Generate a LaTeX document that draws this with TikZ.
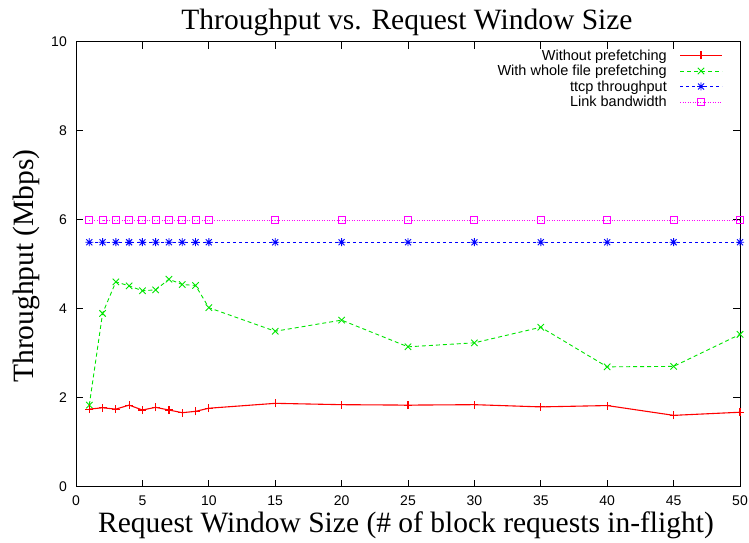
\documentclass[tikz,border=0pt]{standalone}
\usepackage{fontspec}
\setmainfont{Liberation Serif}
\setsansfont{Liberation Sans}
\usetikzlibrary{plotmarks}
\definecolor{gpred}{RGB}{255,0,0}
\definecolor{gpgreen}{RGB}{0,230,0}
\definecolor{gpblue}{RGB}{0,0,255}
\definecolor{gpmag}{RGB}{255,0,255}
\pgfdeclareplotmark{gpstar}{%
  \pgfpathmoveto{\pgfqpoint{-\pgfplotmarksize}{0pt}}\pgfpathlineto{\pgfqpoint{\pgfplotmarksize}{0pt}}%
  \pgfpathmoveto{\pgfqpoint{0pt}{-\pgfplotmarksize}}\pgfpathlineto{\pgfqpoint{0pt}{\pgfplotmarksize}}%
  \pgfpathmoveto{\pgfqpoint{-0.75\pgfplotmarksize}{-0.75\pgfplotmarksize}}\pgfpathlineto{\pgfqpoint{0.75\pgfplotmarksize}{0.75\pgfplotmarksize}}%
  \pgfpathmoveto{\pgfqpoint{-0.75\pgfplotmarksize}{0.75\pgfplotmarksize}}\pgfpathlineto{\pgfqpoint{0.75\pgfplotmarksize}{-0.75\pgfplotmarksize}}%
  \pgfusepathqstroke}
\pgfdeclareplotmark{gpx}{%
  \pgfpathmoveto{\pgfqpoint{-0.8\pgfplotmarksize}{-0.8\pgfplotmarksize}}\pgfpathlineto{\pgfqpoint{0.8\pgfplotmarksize}{0.8\pgfplotmarksize}}%
  \pgfpathmoveto{\pgfqpoint{-0.8\pgfplotmarksize}{0.8\pgfplotmarksize}}\pgfpathlineto{\pgfqpoint{0.8\pgfplotmarksize}{-0.8\pgfplotmarksize}}%
  \pgfusepathqstroke}
\pgfdeclareplotmark{gpplus}{%
  \pgfpathmoveto{\pgfqpoint{-\pgfplotmarksize}{0pt}}\pgfpathlineto{\pgfqpoint{\pgfplotmarksize}{0pt}}%
  \pgfpathmoveto{\pgfqpoint{0pt}{-\pgfplotmarksize}}\pgfpathlineto{\pgfqpoint{0pt}{\pgfplotmarksize}}%
  \pgfusepathqstroke}
\tikzset{
  bigtext/.style={font=\fontsize{29.5}{32}\selectfont, inner sep=0pt},
  ticktext/.style={font=\sffamily\fontsize{14}{16}\selectfont, inner sep=0pt},
  legtext/.style={font=\sffamily\fontsize{14.5}{16}\selectfont, inner sep=0pt, anchor=base east},
  redline/.style={draw=gpred, color=gpred, line width=1.1pt, mark=gpplus, mark size=4pt, mark options={solid, draw=gpred}},
  greenline/.style={draw=gpgreen, color=gpgreen, line width=0.9pt, dash pattern=on 4pt off 3pt, mark=gpx, mark size=4pt, mark options={solid, draw=gpgreen}},
  blueline/.style={draw=gpblue, color=gpblue, line width=0.9pt, dash pattern=on 2.5pt off 3.5pt, mark=gpstar, mark size=4pt, mark options={solid, draw=gpblue}},
  magline/.style={draw=gpmag, color=gpmag, line width=0.9pt, dash pattern=on 1pt off 1.5pt, mark=square, mark size=3.5pt, mark options={solid, draw=gpmag}},
  frame/.style={black, line width=1pt},
}
\begin{document}
\begin{tikzpicture}[x=1pt,y=1pt]
\useasboundingbox[fill=white] (0,0) rectangle (749,543);
% title and axis labels
\node[bigtext, anchor=base] (title) at (407,513) {Throughput vs. Request Window Size};
\node[bigtext, anchor=base] (xlabel) at (406,10) {Request Window Size (\# of block requests in-flight)};
\node[bigtext, anchor=base, rotate=90] (ylabel) at (33,277) {Throughput (Mbps)};
\begin{scope}[shift={(76,56)}, x=13.28pt, y=44.5pt]
  % frame
  \draw[frame] (0,0) rectangle (50,10);
  % x ticks
  \foreach \v in {0,5,...,50} {
    \draw[frame] (\v,0) -- ++(0,7pt);
    \draw[frame] (\v,10) -- ++(0,-7pt);
    \node[ticktext, anchor=base] (xt\v) at ([yshift=-19pt]\v,0) {\v};
  }
  % y ticks
  \foreach \v in {0,2,...,10} {
    \draw[frame] (0,\v) -- ++(7pt,0);
    \draw[frame] (50,\v) -- ++(-7pt,0);
    \node[ticktext, anchor=base east] (yt\v) at ([xshift=-9pt,yshift=-5pt]0,\v) {\v};
  }
  % data
  \draw[magline] plot coordinates {(1,6)(2,6)(3,6)(4,6)(5,6)(6,6)(7,6)(8,6)(9,6)(10,6)(15,6)(20,6)(25,6)(30,6)(35,6)(40,6)(45,6)(50,6)};
  \draw[blueline] plot coordinates {(1,5.5)(2,5.5)(3,5.5)(4,5.5)(5,5.5)(6,5.5)(7,5.5)(8,5.5)(9,5.5)(10,5.5)(15,5.5)(20,5.5)(25,5.5)(30,5.5)(35,5.5)(40,5.5)(45,5.5)(50,5.5)};
  \draw[greenline] plot coordinates {(1,1.84)(2,3.9)(3,4.61)(4,4.52)(5,4.41)(6,4.43)(7,4.67)(8,4.55)(9,4.53)(10,4.03)(15,3.5)(20,3.75)(25,3.15)(30,3.24)(35,3.59)(40,2.7)(45,2.71)(50,3.43)};
  \draw[redline] plot coordinates {(1,1.75)(2,1.78)(3,1.75)(4,1.84)(5,1.73)(6,1.79)(7,1.73)(8,1.67)(9,1.7)(10,1.77)(15,1.88)(20,1.85)(25,1.84)(30,1.85)(35,1.8)(40,1.83)(45,1.61)(50,1.68)};
\end{scope}
% legend
\node[legtext] (l1) at (667,482.5) {Without prefetching};
\node[legtext] (l2) at (667,467) {With whole file prefetching};
\node[legtext] (l3) at (667,451.5) {ttcp throughput};
\node[legtext] (l4) at (667,436) {Link bandwidth};
\coordinate (a1) at (680,487.5); \coordinate (b1) at (722,487.5);
\coordinate (a2) at (680,472); \coordinate (b2) at (722,472);
\coordinate (a3) at (680,456.5); \coordinate (b3) at (722,456.5);
\coordinate (a4) at (680,441); \coordinate (b4) at (722,441);
\draw[gpred, line width=1.1pt] (a1) -- (b1);
\draw[greenline, mark=none] (a2) -- (b2);
\draw[blueline, mark=none] (a3) -- (b3);
\draw[magline, mark=none] (a4) -- (b4);
\draw[redline] plot coordinates {(701,487.5)};
\draw[greenline] plot coordinates {(701,472)};
\draw[blueline] plot coordinates {(701,456.5)};
\draw[magline] plot coordinates {(701,441)};
\end{tikzpicture}
\end{document}
